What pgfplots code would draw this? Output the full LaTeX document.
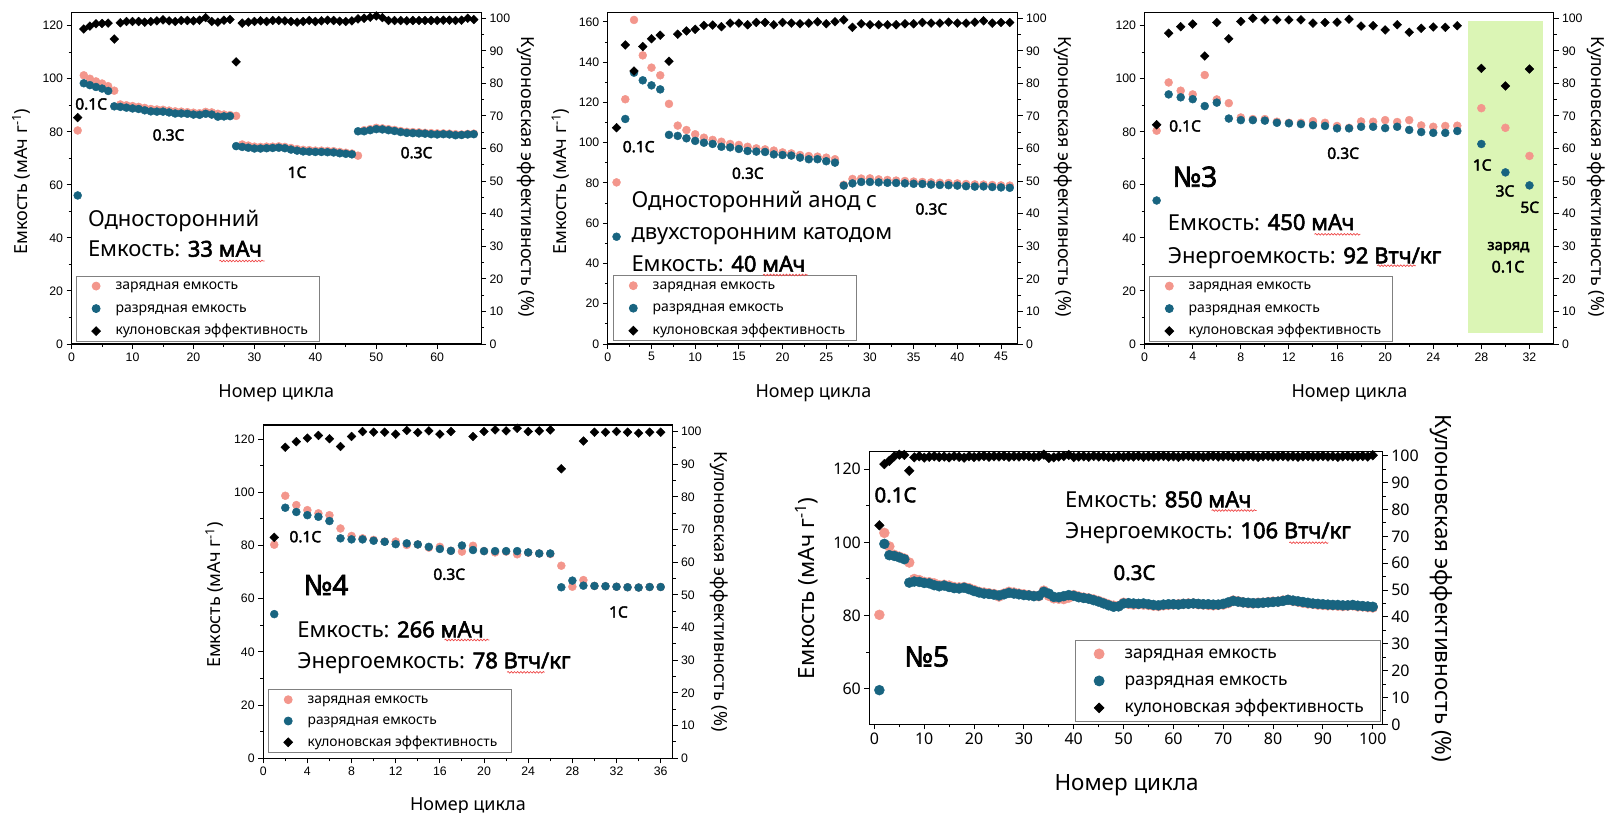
\documentclass[border=0pt]{standalone}
\usepackage{fontspec}
\setmainfont{Noto Sans}[BoldFont={Noto Sans}, BoldFeatures={FakeBold=2.5}]
\newfontfamily\tickfont{Liberation Sans}
\usepackage{pgfplots}
\pgfplotsset{compat=1.18}
\usepackage{pgfplotstable}
\usetikzlibrary{decorations.pathmorphing}

\definecolor{chgc}{RGB}{243,150,140}
\definecolor{disc}{RGB}{24,100,128}
\definecolor{zone}{RGB}{219,245,181}
\definecolor{squig}{RGB}{238,72,72}

\newcommand{\fs}[1]{\fontsize{#1pt}{#1pt}\selectfont}

% cycle, charge capacity, discharge capacity, coulombic efficiency
\pgfplotstableread{
c q d e
1 80.5 56.0 69.5
2 101.3 98.3 96.7
3 100.0 97.6 97.6
4 99.0 96.9 98.3
5 98.2 96.3 98.4
6 97.2 95.4 98.5
7 95.5 89.6 93.6
8 90.3 89.4 98.6
9 90.0 89.1 99.0
10 89.7 88.8 99.0
11 89.4 88.6 99.0
12 89.0 88.1 98.8
13 88.6 87.7 99.0
14 88.4 87.6 99.2
15 88.3 87.6 99.5
16 88.0 87.3 99.2
17 87.7 86.9 99.0
18 87.6 86.9 99.3
19 87.4 86.8 99.3
20 87.2 86.5 99.2
21 87.0 86.4 99.4
22 87.5 86.8 100.2
23 87.3 86.5 99.0
24 86.8 85.7 98.8
25 86.5 85.8 99.4
26 86.3 85.9 99.6
27 86.0 74.6 86.6
28 75.2 74.3 98.5
29 74.8 74.0 98.8
30 74.4 73.7 99.0
31 74.3 73.7 99.2
32 74.4 73.8 99.0
33 74.4 73.9 99.3
34 74.5 74.0 99.3
35 74.3 73.8 99.2
36 73.9 73.3 99.0
37 73.5 72.9 98.8
38 73.2 72.6 99.0
39 73.1 72.5 99.3
40 72.9 72.4 99.0
41 72.9 72.4 99.2
42 72.8 72.3 99.4
43 72.7 72.2 99.3
44 72.4 71.9 99.1
45 72.1 71.7 99.0
46 71.8 71.5 99.2
47 71.0 80.2 99.8
48 80.6 80.2 100.0
49 81.0 80.6 100.3
50 81.5 81.0 100.7
51 81.3 80.9 100.2
52 81.0 80.6 99.3
53 80.7 80.3 99.3
54 80.3 79.9 99.3
55 80.0 79.6 99.2
56 79.9 79.5 99.3
57 79.8 79.4 99.3
58 79.6 79.3 99.3
59 79.5 79.1 99.3
60 79.4 79.0 99.3
61 79.4 79.1 99.4
62 79.3 79.0 99.4
63 79.1 78.7 99.3
64 79.0 78.8 99.4
65 79.2 79.0 100.0
66 79.3 79.1 99.6
}\tA

\pgfplotstableread{
c q d e
1 80.3 53.3 66.4
2 121.6 111.8 91.8
3 161.0 134.8 83.8
4 143.4 131.0 91.3
5 137.3 128.5 93.7
6 133.5 126.5 94.8
7 119.3 103.9 86.8
8 108.5 103.4 95.1
9 106.3 102.2 96.1
10 104.2 100.9 96.6
11 102.5 100.0 97.8
12 101.4 99.4 97.9
13 100.5 98.0 97.4
14 99.4 97.7 98.5
15 98.9 96.9 98.5
16 98.0 95.9 98.0
17 97.2 95.6 98.7
18 96.7 95.4 98.7
19 96.1 94.2 98.0
20 95.2 93.9 98.7
21 94.7 93.6 98.5
22 93.9 92.6 98.3
23 93.4 91.8 98.5
24 93.1 91.8 98.9
25 92.6 90.8 98.3
26 91.8 90.1 98.9
27 79.1 78.7 99.5
28 82.0 79.8 97.2
29 82.2 80.5 98.3
30 82.3 80.5 98.0
31 81.8 80.3 98.0
32 81.5 80.1 98.0
33 81.2 80.0 98.0
34 81.0 79.8 98.3
35 80.7 79.6 98.3
36 80.5 79.5 98.7
37 80.3 79.2 98.5
38 80.1 79.0 98.5
39 80.0 78.9 98.8
40 79.8 78.7 98.5
41 79.5 78.4 98.5
42 79.3 78.2 98.8
43 79.2 78.3 99.2
44 79.0 78.0 98.5
45 78.8 77.8 98.7
46 78.7 77.6 98.7
}\tB

\pgfplotstableread{
c q d e
1 80.4 54.1 67.3
2 98.6 94.1 95.4
3 95.5 93.0 97.4
4 94.1 92.3 98.2
5 101.4 89.7 88.4
6 92.2 91.0 98.7
7 90.8 85.0 93.7
8 85.4 84.4 99.0
9 84.8 84.4 100.0
10 84.8 84.2 99.5
11 83.8 83.4 99.5
12 83.4 83.2 99.5
13 83.4 82.9 99.5
14 84.0 82.5 98.5
15 83.4 82.2 98.7
16 82.2 81.3 98.8
17 81.5 81.3 99.7
18 83.9 81.9 97.6
19 83.8 81.9 97.7
20 84.4 81.4 96.4
21 83.7 81.9 98.0
22 84.4 80.7 95.7
23 82.4 79.9 96.9
24 81.9 79.6 97.3
25 82.2 79.6 97.2
26 82.3 80.3 97.7
28 88.9 75.4 84.6
30 81.5 64.7 79.2
32 70.9 59.8 84.4
}\tC

\pgfplotstableread{
c q d e
1 80.3 54.2 67.6
2 98.7 94.2 95.2
3 95.2 92.6 96.9
4 93.3 91.4 98.0
5 92.1 90.8 98.8
6 91.4 89.2 97.8
7 86.4 82.7 95.4
8 83.6 82.3 98.5
9 82.7 82.3 100.0
10 82.1 81.8 99.8
11 81.5 81.4 99.8
12 81.5 80.5 99.2
13 80.2 80.8 100.3
14 80.4 80.4 99.7
15 79.2 79.5 100.2
16 79.5 78.7 99.2
17 78.0 78.0 100.0
18 77.7 80.0 nan
19 79.9 78.3 98.5
20 77.9 77.9 100.0
21 77.4 77.9 100.5
22 77.7 77.9 100.2
23 76.7 77.9 101.0
24 77.3 77.4 100.0
25 77.0 77.0 100.2
26 76.8 77.0 100.5
27 72.4 64.3 88.6
28 64.5 66.8 nan
29 67.0 64.9 97.1
30 64.8 64.8 99.8
31 64.7 64.7 99.8
32 64.5 64.5 100.0
33 64.3 64.3 99.8
34 64.2 64.2 99.5
35 64.4 64.4 99.8
36 64.4 64.4 99.8
}\tD

\pgfplotstableread{
c d q e
1 59.6 80.2 74.1
2 99.6 102.6 96.9
3 96.5 98.9 98.1
4 96.3 96.6 99.8
5 95.9 96.1 100.4
6 95.4 95.6 100.3
7 89.0 94.5 94.4
8 89.3 90.0 99.4
9 89.2 89.7 99.8
10 88.9 89.2 99.3
11 88.8 89.1 99.6
12 88.3 88.8 99.8
13 88.0 88.3 99.5
14 88.2 88.4 99.7
15 87.8 88.2 99.4
16 87.5 87.8 99.8
17 87.4 87.7 99.6
18 87.6 87.8 99.3
19 87.2 87.5 99.8
20 86.7 87.0 99.5
21 86.3 86.5 99.7
22 86.0 86.3 99.9
23 85.9 86.1 99.6
24 85.7 85.9 99.8
25 85.5 85.2 99.7
26 85.8 86.0 99.9
27 86.2 86.5 99.6
28 86.0 86.3 99.8
29 85.8 86.0 99.7
30 85.6 85.8 99.9
31 85.5 85.6 99.8
32 85.3 85.4 99.6
33 85.4 85.3 99.8
34 86.5 86.8 100.4
35 86.0 85.4 99.2
36 85.1 84.7 99.4
37 85.0 84.6 99.7
38 85.3 84.5 99.9
39 85.6 84.9 100.3
40 85.4 85.6 99.5
41 85.0 85.2 99.7
42 84.8 84.9 99.8
43 84.6 84.7 99.6
44 84.2 84.4 99.9
45 83.8 84.0 99.7
46 83.3 83.5 99.8
47 82.8 83.0 99.6
48 82.4 82.7 99.5
49 82.5 82.6 99.8
50 83.3 83.5 99.6
51 83.4 83.2 99.8
52 83.3 83.0 99.7
53 83.2 83.1 99.9
54 83.3 83.0 99.6
55 83.1 82.9 99.8
56 82.9 82.7 99.7
57 82.8 82.6 99.8
58 83.0 82.8 99.9
59 83.1 82.9 99.7
60 83.1 83.0 99.8
61 83.0 83.1 99.6
62 83.2 83.2 99.8
63 83.2 83.3 99.9
64 83.3 83.3 99.7
65 83.2 83.1 99.8
66 83.1 83.0 99.6
67 83.1 82.9 99.8
68 83.0 82.8 99.9
69 83.0 82.9 99.7
70 83.2 83.0 99.8
71 83.6 83.4 99.9
72 84.0 84.1 99.6
73 83.8 83.9 99.8
74 83.6 83.6 99.7
75 83.5 83.4 99.9
76 83.4 83.3 99.8
77 83.4 83.5 99.6
78 83.5 83.5 99.8
79 83.6 83.7 99.9
80 83.7 83.8 99.7
81 83.8 83.8 99.8
82 84.0 84.1 99.9
83 84.3 84.3 99.7
84 84.1 84.0 99.8
85 83.9 83.8 99.6
86 83.7 83.5 99.8
87 83.5 83.3 99.9
88 83.3 83.2 99.7
89 83.2 83.0 99.8
90 83.1 82.9 99.9
91 83.0 82.8 99.7
92 82.9 82.8 99.8
93 82.9 82.7 99.6
94 82.8 82.6 99.8
95 82.8 82.7 99.9
96 82.9 82.8 99.7
97 82.7 82.5 99.8
98 82.6 82.5 99.9
99 82.5 82.3 99.7
100 82.4 82.2 100.2
}\tE

\pgfplotsset{
  base/.style={scale only axis, anchor=south west, tick align=outside,
    axis line style={line width=1.2pt}, tick style={line width=1pt, black},
    major tick length=5pt, minor tick length=3pt,
    /pgf/number format/assume math mode=true,
    tick label style={font=\tickfont\fs{12.3}}},
  capaxis/.style={base, tick pos=left, minor x tick num=1, minor y tick num=1},
  ceaxis/.style={base, axis x line=none, axis y line*=right, ymin=0,
    ytick={0,10,...,100}, minor y tick num=1, legend cell align=left,
    legend style={draw=gray, line width=0.8pt, fill=white, inner xsep=0pt,
      inner ysep=0pt, row sep=2.5pt, anchor=north west, font=\fs{14},
      nodes={inner sep=0pt, text height=13.8pt, text depth=6.2pt}},
    legend image code/.code={\path (-19.5pt,0pt) (19pt,0pt);
      \draw[##1] plot coordinates {(0pt,0pt)};}},
  chg/.style={only marks, mark=*, mark size=4pt, color=chgc},
  dis/.style={only marks, mark=*, mark size=4pt, color=disc},
  ce/.style={only marks, mark=square*, mark size=3.1pt,
    mark options={rotate=45}, color=black},
}

\newcommand{\legendrows}[1]{%
  \addlegendimage{chg}\addlegendentry{\makebox[#1][l]{зарядная емкость}}
  \addlegendimage{dis}\addlegendentry{\makebox[#1][l]{разрядная емкость}}}
\newcommand{\squiggle}[3]{\draw[squig, line width=0.7pt, decorate,
  decoration={snake, amplitude=0.8pt, segment length=3.2pt}]
  (#1pt,-#3pt) -- (#2pt,-#3pt);}

\begin{document}
\begin{tikzpicture}
\useasboundingbox (0,0) rectangle (1613pt,-813pt);

% ---------- single-sided cell ----------
\begin{axis}[capaxis, at={(71.6pt,-344pt)}, width=409.5pt, height=331.3pt,
  xmin=0, xmax=67.2, ymin=0, ymax=124.9,
  xtick={0,10,...,60}, ytick={0,20,...,120}]
  \addplot[chg] table[x=c, y=q] {\tA};
  \addplot[dis] table[x=c, y=d] {\tA};
\end{axis}
\begin{axis}[ceaxis, at={(71.6pt,-344pt)}, width=409.5pt, height=331.3pt,
  xmin=0, xmax=67.2, ymax=101.7,
  legend style={at={(axis description cs:0.0103,0.2062)}}]
  \legendrows{204pt}
  \addplot[ce] table[x=c, y=e] {\tA};
  \addlegendentry{\makebox[204pt][l]{кулоновская эффективность}}
\end{axis}

% ---------- single-sided anode, double-sided cathode ----------
\begin{axis}[capaxis, at={(607.8pt,-344pt)}, width=409.8pt, height=331.3pt,
  xmin=0, xmax=46.9, ymin=0, ymax=164.6,
  xtick={0,5,...,45}, ytick={0,20,...,160}]
  \addplot[chg] table[x=c, y=q] {\tB};
  \addplot[dis] table[x=c, y=d] {\tB};
\end{axis}
\begin{axis}[ceaxis, at={(607.8pt,-344pt)}, width=409.8pt, height=331.3pt,
  xmin=0, xmax=46.9, ymax=101.7,
  legend style={at={(axis description cs:0.0127,0.2074)}}]
  \legendrows{204pt}
  \addplot[ce] table[x=c, y=e] {\tB};
  \addlegendentry{\makebox[204pt][l]{кулоновская эффективность}}
\end{axis}

% ---------- cell No3 ----------
\begin{axis}[capaxis, at={(1144.6pt,-344pt)}, width=408.9pt, height=331.3pt,
  xmin=0, xmax=34, ymin=0, ymax=124.9,
  xtick={0,4,...,32}, ytick={0,20,...,120}]
  \fill[zone] (axis cs:26.9,4.0) rectangle (axis cs:33.1,121.9);
  \addplot[chg] table[x=c, y=q] {\tC};
  \addplot[dis] table[x=c, y=d] {\tC};
\end{axis}
\begin{axis}[ceaxis, at={(1144.6pt,-344pt)}, width=408.9pt, height=331.3pt,
  xmin=0, xmax=34, ymax=101.7,
  legend style={at={(axis description cs:0.0108,0.2062)}}]
  \legendrows{204pt}
  \addplot[ce] table[x=c, y=e] {\tC};
  \addlegendentry{\makebox[204pt][l]{кулоновская эффективность}}
\end{axis}

% ---------- cell No4 ----------
\begin{axis}[capaxis, at={(263.2pt,-758.3pt)}, width=409.3pt, height=333.3pt,
  xmin=0, xmax=37.07, ymin=0, ymax=125.3,
  xtick={0,4,...,36}, ytick={0,20,...,120}]
  \addplot[chg] table[x=c, y=q] {\tD};
  \addplot[dis] table[x=c, y=d] {\tD};
\end{axis}
\begin{axis}[ceaxis, at={(263.2pt,-758.3pt)}, width=409.3pt, height=333.3pt,
  xmin=0, xmax=37.07, ymax=102,
  legend style={at={(axis description cs:0.0115,0.2070)}, font=\fs{13.8},
    row sep=1.3pt}]
  \legendrows{204pt}
  \addplot[ce] table[x=c, y=e] {\tD};
  \addlegendentry{\makebox[204pt][l]{кулоновская эффективность}}
\end{axis}

% ---------- cell No5 ----------
\begin{axis}[capaxis, at={(869.4pt,-724.3pt)}, width=513.3pt, height=272.6pt,
  xmin=-1.0, xmax=102.0, ymin=50.26, ymax=124.8,
  xtick={0,10,...,100}, ytick={60,80,...,120},
  tick label style={font=\fs{16}},
  chg/.append style={mark size=5pt}, dis/.append style={mark size=5pt}]
  \addplot[chg] table[x=c, y=q] {\tE};
  \addplot[dis] table[x=c, y=d] {\tE};
\end{axis}
\begin{axis}[ceaxis, at={(869.4pt,-724.3pt)}, width=513.3pt, height=272.6pt,
  xmin=-1.0, xmax=102.0, ymax=101.5,
  tick label style={font=\fs{16}},
  chg/.append style={mark size=5pt}, dis/.append style={mark size=5pt},
  ce/.append style={mark size=3.4pt},
  legend style={at={(axis description cs:0.3998,0.3092)}, font=\fs{17.4},
    row sep=0pt, nodes={text height=18.2pt, text depth=8.8pt}},
  legend image code/.code={\path (-23.7pt,0pt) (25pt,0pt);
      \draw[#1] plot coordinates {(0pt,0pt)};}]
  \legendrows{256pt}
  \addplot[ce] table[x=c, y=e] {\tE};
  \addlegendentry{\makebox[256pt][l]{кулоновская эффективность}}
\end{axis}

% ---------- axis titles ----------
\begin{scope}[every node/.style={inner sep=0pt, font=\fs{18}}]
  \node[anchor=base] at (276.3pt,-397.7pt) {Номер цикла};
  \node[anchor=base] at (813.4pt,-397.7pt) {Номер цикла};
  \node[anchor=base] at (1349.4pt,-397.7pt) {Номер цикла};
  \node[anchor=base] at (467.9pt,-810.7pt) {Номер цикла};
  \node[anchor=base, rotate=90] at (27.5pt,-181.7pt) {Емкость (мАч г\textsuperscript{-1})};
  \node[anchor=base, rotate=90] at (566.9pt,-181.7pt) {Емкость (мАч г\textsuperscript{-1})};
  \node[anchor=base, rotate=90] at (220.7pt,-595pt) {Емкость (мАч г\textsuperscript{-1})};
  \node[anchor=base, rotate=-90] at (521pt,-176.7pt) {Кулоновская эффективность (\%)};
  \node[anchor=base, rotate=-90] at (1058.2pt,-176.7pt) {Кулоновская эффективность (\%)};
  \node[anchor=base, rotate=-90] at (1591.6pt,-176.7pt) {Кулоновская эффективность (\%)};
  \node[anchor=base, rotate=-90] at (714.3pt,-591.7pt) {Кулоновская эффективность (\%)};
  \node[anchor=base, font=\fs{22.4}] at (1126.6pt,-790.7pt) {Номер цикла};
  \node[anchor=base, rotate=90, font=\fs{22.4}] at (814.4pt,-588.3pt) {Емкость (мАч г\textsuperscript{-1})};
  \node[anchor=base, rotate=-90, font=\fs{22.4}] at (1435pt,-588.3pt) {Кулоновская эффективность (\%)};
\end{scope}

% ---------- current-rate marks ----------
\begin{scope}[every node/.style={inner sep=0pt, anchor=west, font=\bfseries\fs{15.5}}]
  \node at (75.1pt,-104pt) {0.1C};
  \node at (152.5pt,-135pt) {0.3C};
  \node at (287.5pt,-172.3pt) {1C};
  \node at (400.5pt,-152.7pt) {0.3C};
  \node at (622.6pt,-146.7pt) {0.1C};
  \node at (731.8pt,-173.3pt) {0.3C};
  \node at (915.3pt,-209pt) {0.3C};
  \node at (1169pt,-126pt) {0.1C};
  \node at (1327.1pt,-153.3pt) {0.3C};
  \node at (1472.6pt,-165pt) {1C};
  \node at (1495.4pt,-191pt) {3C};
  \node at (1520.2pt,-207.3pt) {5C};
  \node at (289.3pt,-536.7pt) {0.1C};
  \node at (433.2pt,-574.3pt) {0.3C};
  \node at (608.9pt,-612pt) {1C};
  \node[font=\bfseries\fs{20.5}] at (874.3pt,-495pt) {0.1C};
  \node[font=\bfseries\fs{20.5}] at (1113.3pt,-572.7pt) {0.3C};
  \node[anchor=base, font=\bfseries\fs{14.8}] at (1508.3pt,-250pt) {заряд};
  \node[anchor=center, font=\bfseries\fs{16}] at (1508pt,-266.7pt) {0.1C};
  \node[font=\bfseries\fs{28}] at (1172.5pt,-176.7pt) {№3};
  \node[font=\bfseries\fs{28}] at (303.6pt,-585pt) {№4};
  \node[font=\bfseries\fs{28}] at (904.3pt,-656.7pt) {№5};
\end{scope}

% ---------- cell descriptions ----------
\begin{scope}[every node/.style={inner sep=0pt, anchor=base west, font=\fs{22}}]
  \node at (87.8pt,-226.7pt) {Односторонний};
  \node at (87.8pt,-256.7pt) {Емкость: \textbf{33 мАч}};
  \node at (631.3pt,-207.3pt) {Односторонний анод с};
  \node at (631.3pt,-239.5pt) {двухсторонним катодом};
  \node at (631.3pt,-271.7pt) {Емкость: \textbf{40 мАч}};
  \node at (1167.7pt,-230pt) {Емкость: \textbf{450 мАч}};
  \node at (1167.7pt,-263.3pt) {Энергоемкость: \textbf{92 Втч/кг}};
  \node at (297.1pt,-637.3pt) {Емкость: \textbf{266 мАч}};
  \node at (297.1pt,-668.3pt) {Энергоемкость: \textbf{78 Втч/кг}};
  \node at (1064.8pt,-507.3pt) {Емкость: \textbf{850 мАч}};
  \node at (1064.8pt,-538.3pt) {Энергоемкость: \textbf{106 Втч/кг}};
\end{scope}
\squiggle{219.4}{264.5}{261}
\squiggle{763.1}{807.9}{275}
\squiggle{1314.5}{1360.4}{234.3}
\squiggle{1377.4}{1415.8}{265.7}
\squiggle{444.6}{489.3}{640}
\squiggle{507.1}{544.6}{672.3}
\squiggle{1211.7}{1256.7}{510.5}
\squiggle{1289.3}{1328.3}{542.7}
\end{tikzpicture}
\end{document}
